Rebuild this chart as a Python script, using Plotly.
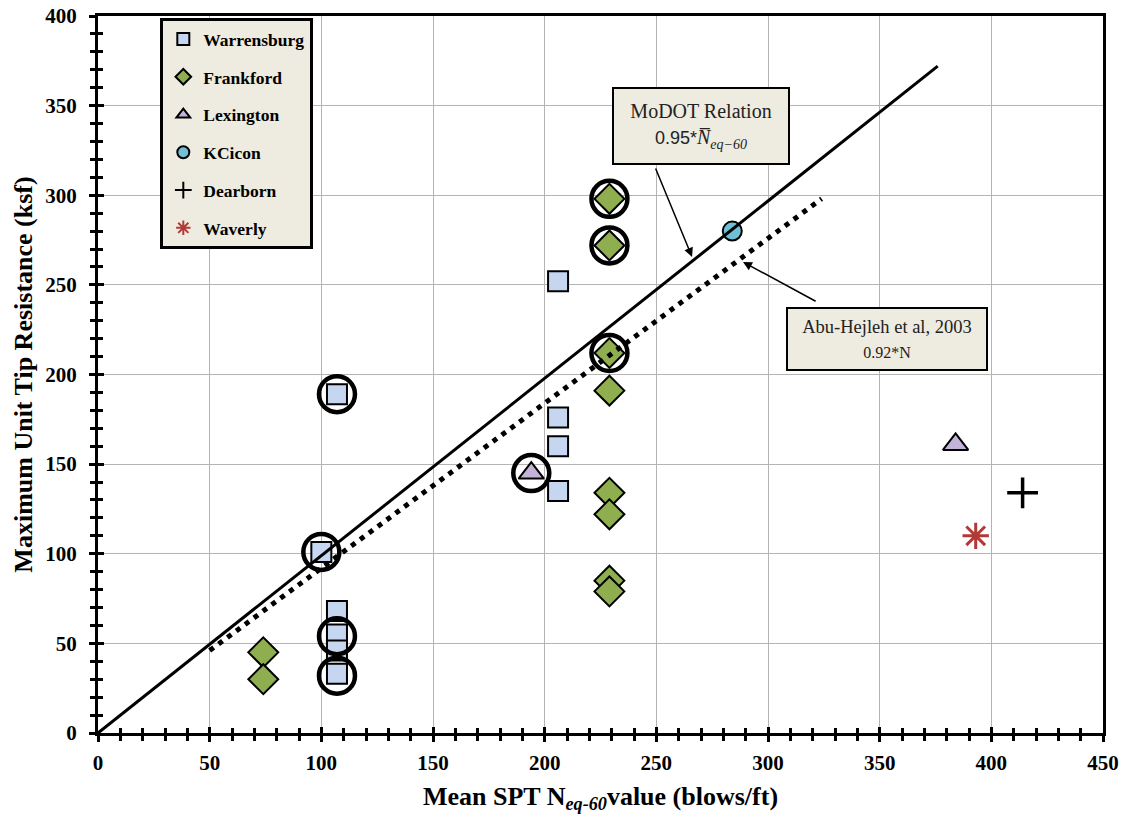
import plotly.graph_objects as go

# ---- data ----
warr_x = [107, 100, 107, 107, 107, 107, 206, 206, 206, 206]
warr_y = [189, 101, 68, 55, 46, 33, 252, 176, 160, 135]
frank_x = [74, 74, 229, 229, 229, 229, 229, 229, 229, 229]
frank_y = [45, 30, 298, 272, 212, 191, 134, 122, 85, 79]
lex_x = [194, 384]
lex_y = [145, 161]
kc_x = [284]
kc_y = [280]
dear_x = [414]
dear_y = [134]
wav_x = [393]
wav_y = [110]
circ_x = [107, 100, 107, 107, 229, 229, 229, 194]
circ_y = [189, 101, 54, 32, 298, 272, 212, 145]
modot_x = [0, 376]
modot_y = [0, 372]
abu_x = [50, 324]
abu_y = [46, 298]

x_ticks = [0, 50, 100, 150, 200, 250, 300, 350, 400, 450]
y_ticks = [0, 50, 100, 150, 200, 250, 300, 350, 400]
x_ticktext = ["<b>%d</b>" % v for v in x_ticks]
y_ticktext = ["<b>%d</b>" % v for v in y_ticks]

SERIF = "Liberation Serif"
BOX_BG = "#EEEBE0"

fig = go.Figure()

def add_series(name, xs, ys, symbol, size, fill, lw=1.8, lc="black"):
    fig.add_trace(go.Scatter(
        x=xs, y=ys, mode="markers", name=name, legendgroup=name,
        marker=dict(symbol=symbol, size=size, color=fill,
                    line=dict(color=lc, width=lw)),
    ))

add_series("Warrensburg", warr_x, warr_y, "square", 20, "#C6D6F0", lw=2)
add_series("Frankford", frank_x, frank_y, "diamond", 23, "#8FAE4F", lw=2)
add_series("Lexington", lex_x, lex_y, "triangle-up", 22, "#C3B3D9", lw=2)
add_series("KCicon", kc_x, kc_y, "circle", 19, "#6FBFD6", lw=2)
add_series("Dearborn", dear_x, dear_y, "cross-thin", 22, "black", lw=3.5)
add_series("Waverly", wav_x, wav_y, "asterisk", 22, "#B23A36", lw=3, lc="#B23A36")

# relation lines
fig.add_trace(go.Scatter(x=modot_x, y=modot_y, mode="lines", showlegend=False,
                         line=dict(color="black", width=3), hoverinfo="skip"))
fig.add_trace(go.Scatter(x=abu_x, y=abu_y, mode="lines", showlegend=False,
                         line=dict(color="black", width=5, dash="5px,6px"), hoverinfo="skip"))

# highlight circles
fig.add_trace(go.Scatter(x=circ_x, y=circ_y, mode="markers", showlegend=False,
                         marker=dict(symbol="circle-open", size=36, color="black",
                                     line=dict(color="black", width=4.5)),
                         hoverinfo="skip"))

# invisible trace for overlay axes (inside ticks)
fig.add_trace(go.Scatter(x=[0], y=[0], xaxis="x2", yaxis="y2", mode="markers",
                         marker=dict(opacity=0), showlegend=False, hoverinfo="skip"))

tickfont = dict(family=SERIF, size=21, color="black", weight="bold")

common_minor = dict(dtick=10, ticks="outside", ticklen=5, tickwidth=2.5,
                    tickcolor="black", showgrid=False)

fig.update_layout(
    width=1122, height=807,
    margin=dict(l=90, r=27, t=8, b=82, autoexpand=False),
    paper_bgcolor="white", plot_bgcolor="white",
    xaxis=dict(range=[0, 450], tickvals=x_ticks, ticktext=x_ticktext, showgrid=True,
               gridcolor="#B4B4B4",
               gridwidth=1, zeroline=False, showline=True, linecolor="black",
               linewidth=3, mirror=True, ticks="outside", ticklen=6, tickwidth=2.5,
               tickcolor="black", tickfont=tickfont, automargin=False,
               ticklabelstandoff=3, ticklabeloverflow="allow", minor=common_minor,
               title=dict(text="Mean SPT N<sub><i>eq-60</i></sub>value (blows/ft)",
                          font=dict(family=SERIF, size=26, color="black", weight="bold"),
                          standoff=13)),
    yaxis=dict(range=[0, 400], tickvals=y_ticks, ticktext=y_ticktext, showgrid=True,
               gridcolor="#B4B4B4",
               gridwidth=1, zeroline=False, showline=True, linecolor="black",
               linewidth=3, mirror=True, ticks="outside", ticklen=6, tickwidth=2.5,
               tickcolor="black", tickfont=tickfont, automargin=False,
               ticklabelstandoff=8, ticklabeloverflow="allow", minor=common_minor,
               title=dict(text="Maximum Unit Tip Resistance (ksf)",
                          font=dict(family=SERIF, size=26, color="black", weight="bold"),
                          standoff=6)),
    xaxis2=dict(overlaying="x", matches="x", side="bottom", showgrid=False, zeroline=False,
                showline=False, showticklabels=False, tickvals=x_ticks, ticks="inside",
                ticklen=6, tickwidth=2.5, tickcolor="black", automargin=False,
                minor=dict(dtick=10, ticks="inside", ticklen=5, tickwidth=2.5,
                           tickcolor="black", showgrid=False)),
    yaxis2=dict(overlaying="y", matches="y", side="left", showgrid=False, zeroline=False,
                showline=False, showticklabels=False, tickvals=y_ticks, ticks="inside",
                ticklen=6, tickwidth=2.5, tickcolor="black", automargin=False,
                minor=dict(dtick=10, ticks="inside", ticklen=5, tickwidth=2.5,
                           tickcolor="black", showgrid=False)),
    legend=dict(x=0.062, y=0.997, xanchor="left", yanchor="top",
                bgcolor=BOX_BG, bordercolor="black", borderwidth=3,
                font=dict(family=SERIF, size=17.5, color="black", weight="bold"),
                tracegroupgap=12, itemsizing="constant", itemwidth=30),
    showlegend=True,
)

# text boxes
fig.add_annotation(x=270, y=338.6, xref="x", yref="y", showarrow=False,
                   text="MoDOT Relation<br><span style='font-family:Liberation Sans;font-size:18px'>0.95*</span><i>N̅<sub>eq−60</sub></i>",
                   font=dict(family=SERIF, size=20, color="#222"),
                   bgcolor=BOX_BG, bordercolor="black", borderwidth=2,
                   width=172, height=72, align="center")
fig.add_annotation(x=353.3, y=219.8, xref="x", yref="y", showarrow=False,
                   text="Abu-Hejleh et al, 2003<br><span style='font-size:16px'>0.92*N</span>",
                   font=dict(family=SERIF, size=18.5, color="#222"),
                   bgcolor=BOX_BG, bordercolor="black", borderwidth=2,
                   width=196, height=58, align="center")

# arrows
fig.add_annotation(x=266, y=265.6, ax=249.4, ay=315.8, xref="x", yref="y",
                   axref="x", ayref="y", text="", showarrow=True,
                   arrowhead=2, arrowsize=1.2, arrowwidth=1.5, arrowcolor="black")
fig.add_annotation(x=288.8, y=262.8, ax=322, ay=240.4, xref="x", yref="y",
                   axref="x", ayref="y", text="", showarrow=True,
                   arrowhead=2, arrowsize=1.2, arrowwidth=1.5, arrowcolor="black")

fig.write_html("out.html")
